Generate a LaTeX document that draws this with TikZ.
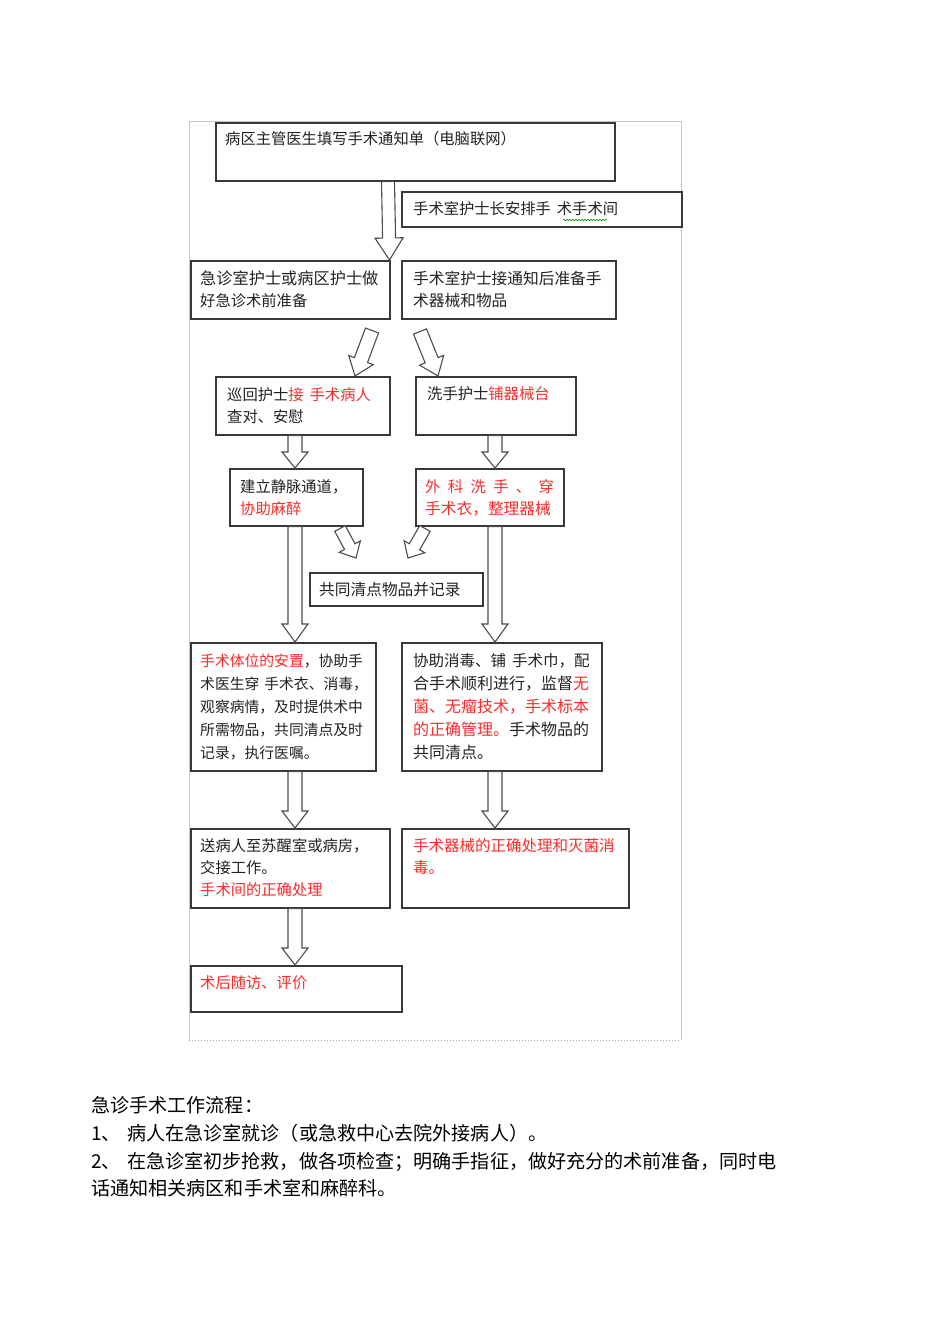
\documentclass[tikz,border=0pt]{standalone}
\usepackage{fontspec}
\setmainfont{Noto Sans CJK SC}
\usetikzlibrary{calc,decorations.pathmorphing}
\definecolor{tred}{HTML}{FF2A2A}
\definecolor{tblk}{HTML}{222222}
\newcommand\blkarrow[5]{%
  \coordinate (bah) at ($(#5)!#3!(#4)$);
  \draw[blockarr] ($(#4)!#1!90:(#5)$) -- ($(bah)!#1!90:(#5)$) -- ($(bah)!#2!90:(#5)$) -- (#5)
    -- ($(bah)!#2!-90:(#5)$) -- ($(bah)!#1!-90:(#5)$) -- ($(#4)!#1!-90:(#5)$) -- cycle;}
\newcommand\fs[1]{\fontsize{#1}{#1}\selectfont}
\begin{document}
\begin{tikzpicture}[x=1pt,y=-1pt,
  box/.style={draw=black!78, line width=1.5pt, fill=white, inner sep=0pt, anchor=north west},
  blockarr/.style={draw=black!70, line width=1.1pt, fill=white, line join=miter},
  txt/.style={anchor=base west, inner sep=0pt, font=\fs{15.3}, text=tblk},
  body/.style={anchor=base west, inner sep=0pt, font=\fs{19.1}, text=black}]
\path[use as bounding box] (0,0) rectangle (950,1344);
% frame
\draw[black!22, line width=0.8pt] (189,1040) -- (189,121) -- (681,121) -- (681,1040);
\draw[black!35, line width=1pt, dotted] (189,1040) -- (681,1040);
% boxes
\node[box, minimum width=399pt, minimum height=58pt] (b1) at (215,122) {};
\node[box, minimum width=280pt, minimum height=35pt] (b2) at (401,191) {};
\node[box, minimum width=199pt, minimum height=58pt] (b3) at (190,260) {};
\node[box, minimum width=214pt, minimum height=58pt] (b4) at (401,260) {};
\node[box, minimum width=174pt, minimum height=58pt] (b5) at (215,376) {};
\node[box, minimum width=160pt, minimum height=58pt] (b6) at (415,376) {};
\node[box, minimum width=133pt, minimum height=57pt] (b7) at (229,468) {};
\node[box, minimum width=148pt, minimum height=57pt] (b8) at (415,468) {};
\node[box, minimum width=173pt, minimum height=33pt] (b9) at (309,572) {};
\node[box, minimum width=185pt, minimum height=128pt] (b10) at (190,642) {};
\node[box, minimum width=200pt, minimum height=128pt] (b11) at (401,642) {};
\node[box, minimum width=199pt, minimum height=79pt] (b12) at (190,828) {};
\node[box, minimum width=227pt, minimum height=79pt] (b13) at (401,828) {};
\node[box, minimum width=211pt, minimum height=46pt] (b14) at (190,965) {};
% arrow end points
\coordinate (s1) at ($(b1.south west)+(173,0)$);
\coordinate (t1) at ($(b3.north east)+(-1,0)$);
\coordinate (s2) at ($(b3.south west)+(182,11)$);
\coordinate (t2) at ($(b5.north west)+(140,0)$);
\coordinate (s3) at ($(b4.south west)+(19,12)$);
\coordinate (t3) at ($(b6.north west)+(23,0)$);
\coordinate (s4) at ($(b5.south west)+(80,0)$);
\coordinate (t4) at ($(b7.north west)+(66,0)$);
\coordinate (s5) at ($(b6.south west)+(80,0)$);
\coordinate (t5) at ($(b8.north west)+(80,0)$);
\coordinate (s6) at ($(b7.south west)+(111,2)$);
\coordinate (t6) at ($(b9.north west)+(47,-14)$);
\coordinate (s7) at ($(b8.south west)+(10,2)$);
\coordinate (t7) at ($(b9.north west)+(99,-14)$);
\coordinate (s8) at ($(b7.south west)+(66,0)$);
\coordinate (t8) at ($(b10.north west)+(105,0)$);
\coordinate (s9) at ($(b8.south west)+(80,0)$);
\coordinate (t9) at ($(b11.north west)+(94,0)$);
\coordinate (s10) at ($(b10.south west)+(105,0)$);
\coordinate (t10) at ($(b12.north west)+(105,0)$);
\coordinate (s11) at ($(b11.south west)+(94,0)$);
\coordinate (t11) at ($(b13.north west)+(94,0)$);
\coordinate (s12) at ($(b12.south west)+(105,0)$);
\coordinate (t12) at ($(b14.north west)+(105,0)$);
% block arrows
\blkarrow{6.5pt}{14pt}{22pt}{s1}{t1}
\blkarrow{7pt}{13pt}{17pt}{s2}{t2}
\blkarrow{7pt}{13pt}{17pt}{s3}{t3}
\blkarrow{7pt}{13pt}{16pt}{s4}{t4}
\blkarrow{7pt}{13pt}{16pt}{s5}{t5}
\blkarrow{6pt}{12pt}{13pt}{s6}{t6}
\blkarrow{6pt}{12pt}{13pt}{s7}{t7}
\blkarrow{7pt}{13pt}{18pt}{s8}{t8}
\blkarrow{7pt}{13pt}{18pt}{s9}{t9}
\blkarrow{7pt}{13pt}{17pt}{s10}{t10}
\blkarrow{7pt}{13pt}{17pt}{s11}{t11}
\blkarrow{7pt}{13pt}{17pt}{s12}{t12}
% texts
\node[txt] (l1) at (225,144) {病区主管医生填写手术通知单（电脑联网）};
\node[txt] (l2) at (413,214) {手术室护士长安排手\hspace{6pt}术手术间};
\draw[green!55!black, line width=0.6pt, decorate, decoration={snake, amplitude=0.8pt, segment length=3pt}] (563,220) -- (607,220);
\node[txt, font=\fs{16.2}] (l3a) at (200,284) {急诊室护士或病区护士做};
\node[txt] (l3b) at (200,306) {好急诊术前准备};
\node[txt, font=\fs{15.7}] (l4a) at (413,284) {手术室护士接通知后准备手};
\node[txt, font=\fs{15.7}] (l4b) at (413,306) {术器械和物品};
\node[txt] (l5a) at (227,400) {巡回护士\textcolor{tred}{接\hspace{6pt}手术病人}};
\node[txt] (l5b) at (227,422) {查对、安慰};
\node[txt] (l6) at (427,399) {洗手护士\textcolor{tred}{铺器械台}};
\node[txt] (l7a) at (240,492) {建立静脉通道，};
\node[txt, text=tred] (l7b) at (240,514) {协助麻醉};
\node[txt, text=tred] (l8a) at (425,492) {外\hspace{7.4pt}科\hspace{7.4pt}洗\hspace{7.4pt}手\hspace{7.4pt}、\hspace{7.4pt}穿};
\node[txt, text=tred, font=\fs{15.7}] (l8b) at (425,514) {手术衣，整理器械};
\node[txt, font=\fs{15.7}] (l9) at (319,595) {共同清点物品并记录};
\node[txt, font=\fs{14.8}] (l10a) at (200,666) {\textcolor{tred}{手术体位的安置}，协助手};
\node[txt, font=\fs{14.8}] (l10b) at (200,689) {术医生穿\hspace{5pt}手术衣、消毒，};
\node[txt, font=\fs{14.8}] (l10c) at (200,712) {观察病情，及时提供术中};
\node[txt, font=\fs{14.8}] (l10d) at (200,735) {所需物品，共同清点及时};
\node[txt, font=\fs{14.8}] (l10e) at (200,758) {记录，执行医嘱。};
\node[txt, font=\fs{15.5}] (l11a) at (413,666) {协助消毒、铺\hspace{6pt}手术巾，配};
\node[txt, font=\fs{16}] (l11b) at (413,689) {合手术顺利进行，监督\textcolor{tred}{无}};
\node[txt, font=\fs{16}, text=tred] (l11c) at (413,712) {菌、无瘤技术，手术标本};
\node[txt, font=\fs{16}] (l11d) at (413,735) {\textcolor{tred}{的正确管理。}手术物品的};
\node[txt, font=\fs{16}] (l11e) at (413,758) {共同清点。};
\node[txt] (l12a) at (200,851) {送病人至苏醒室或病房，};
\node[txt] (l12b) at (200,873) {交接工作。};
\node[txt, text=tred] (l12c) at (200,895) {手术间的正确处理};
\node[txt, text=tred, font=\fs{15.5}] (l13a) at (413,851) {手术器械的正确处理和灭菌消};
\node[txt, text=tred, font=\fs{15.5}] (l13b) at (413,873) {毒。};
\node[txt, text=tred] (l14) at (200,988) {术后随访、评价};
% body text
\node[body] (p0) at (91,1112) {急诊手术工作流程：};
\node[body] (p1) at (91,1140) {\makebox[36pt][l]{1、}病人在急诊室就诊（或急救中心去院外接病人）。};
\node[body] (p2) at (91,1168) {\makebox[36pt][l]{2、}在急诊室初步抢救，做各项检查；明确手指征，做好充分的术前准备，同时电};
\node[body] (p3) at (91,1195) {话通知相关病区和手术室和麻醉科。};
\end{tikzpicture}
\end{document}
